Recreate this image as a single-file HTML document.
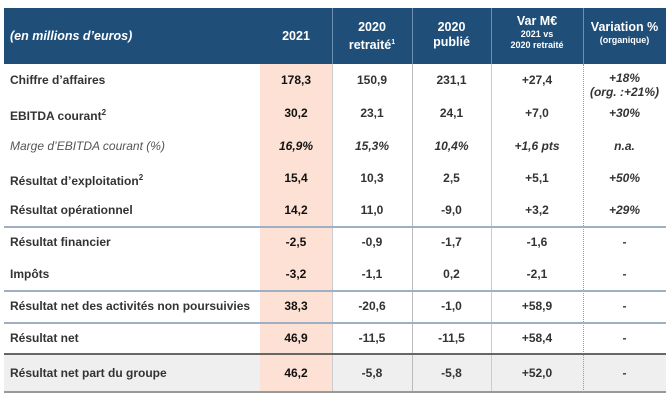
<!DOCTYPE html><html><head><meta charset="utf-8"><style>
body{margin:0;width:670px;height:400px;background:#fff;position:relative;overflow:hidden;font-family:"Liberation Sans",Arial,sans-serif;color:#333}
.a{position:absolute}
.hd{position:absolute;left:4px;top:8px;width:662px;height:56px;background:#1f4e79}
.ht{position:absolute;color:#fff;font-weight:bold;text-align:center;font-size:12.5px;line-height:15px}
.sm{font-size:9px;line-height:11px}
.r{position:absolute;left:0;width:670px;height:20px;font-size:12px;font-weight:bold}
.r div{position:absolute;top:0;line-height:20px;text-align:center}
.c0{left:10px;text-align:left!important;white-space:nowrap}
.c1{left:260px;width:72px;color:#111}.c2{left:332px;width:80px}.c3{left:412px;width:79px}.c4{left:491px;width:92px}.c5{left:583px;width:83px;font-style:italic}
.it div{font-style:italic}
.hl{position:absolute;left:4px;width:662px}
</style></head><body>
<div class="a" style="left:4px;top:354px;width:662px;height:38px;background:#efefef"></div>
<div class="a" style="left:260px;top:64px;width:72px;height:328px;background:#fce1d4"></div>
<div class="a" style="left:332px;top:64px;width:1px;height:328px;background:#ccc"></div>
<div class="a" style="left:412px;top:64px;width:1px;height:328px;background:#bbb"></div>
<div class="a" style="left:491px;top:64px;width:1px;height:328px;background:#ccc"></div>
<div class="a" style="left:583px;top:64px;width:0;height:328px;border-left:1px dotted #99a"></div>
<div class="hd"></div>
<div class="a" style="left:332px;top:8px;width:1px;height:56px;background:#6f8fb0"></div>
<div class="a" style="left:412px;top:8px;width:1px;height:56px;background:#6f8fb0"></div>
<div class="a" style="left:491px;top:8px;width:1px;height:56px;background:#6f8fb0"></div>
<div class="a" style="left:583px;top:8px;width:1px;height:56px;background:#6f8fb0"></div>
<div class="ht" style="left:10px;top:29px;font-style:italic;text-align:left">(en millions d’euros)</div>
<div class="ht" style="left:260px;width:72px;top:29px">2021</div>
<div class="ht" style="left:332px;width:80px;top:20px">2020<br>retraité<sup style="font-size:7px">1</sup></div>
<div class="ht" style="left:412px;width:79px;top:20px">2020<br>publié</div>
<div class="ht" style="left:491px;width:92px;top:14px">Var M€<div class="sm">2021 vs<br>2020 retraité</div></div>
<div class="ht" style="left:583px;width:83px;top:20px">Variation %<div class="sm">(organique)</div></div>

<div class="r" style="top:70px"><div class="c0">Chiffre d’affaires</div><div class="c1">178,3</div><div class="c2">150,9</div><div class="c3">231,1</div><div class="c4">+27,4</div><div class="c5" style="line-height:14px;top:1px">+18%<br>(org. :+21%)</div></div>
<div class="r" style="top:103px"><div class="c0">EBITDA courant<sup style="font-size:8px">2</sup></div><div class="c1">30,2</div><div class="c2">23,1</div><div class="c3">24,1</div><div class="c4">+7,0</div><div class="c5">+30%</div></div>
<div class="r it" style="top:136px"><div class="c0" style="font-weight:normal;color:#555">Marge d’EBITDA courant (%)</div><div class="c1">16,9%</div><div class="c2">15,3%</div><div class="c3">10,4%</div><div class="c4">+1,6 pts</div><div class="c5">n.a.</div></div>
<div class="r" style="top:168px"><div class="c0">Résultat d’exploitation<sup style="font-size:8px">2</sup></div><div class="c1">15,4</div><div class="c2">10,3</div><div class="c3">2,5</div><div class="c4">+5,1</div><div class="c5">+50%</div></div>
<div class="r" style="top:200px"><div class="c0">Résultat opérationnel</div><div class="c1">14,2</div><div class="c2">11,0</div><div class="c3">-9,0</div><div class="c4">+3,2</div><div class="c5">+29%</div></div>
<div class="hl" style="top:226px;height:2px;background:#9fb0c4"></div>
<div class="r" style="top:232px"><div class="c0">Résultat financier</div><div class="c1">-2,5</div><div class="c2">-0,9</div><div class="c3">-1,7</div><div class="c4">-1,6</div><div class="c5">-</div></div>
<div class="r" style="top:264px"><div class="c0">Impôts</div><div class="c1">-3,2</div><div class="c2">-1,1</div><div class="c3">0,2</div><div class="c4">-2,1</div><div class="c5">-</div></div>
<div class="hl" style="top:290px;height:2px;background:#9fb0c4"></div>
<div class="r" style="top:296px"><div class="c0">Résultat net des activités non poursuivies</div><div class="c1">38,3</div><div class="c2">-20,6</div><div class="c3">-1,0</div><div class="c4">+58,9</div><div class="c5">-</div></div>
<div class="hl" style="top:322px;height:2px;background:#9fb0c4"></div>
<div class="r" style="top:328px"><div class="c0">Résultat net</div><div class="c1">46,9</div><div class="c2">-11,5</div><div class="c3">-11,5</div><div class="c4">+58,4</div><div class="c5">-</div></div>
<div class="hl" style="top:353px;height:2px;background:#666"></div>
<div class="r" style="top:363px"><div class="c0">Résultat net part du groupe</div><div class="c1">46,2</div><div class="c2">-5,8</div><div class="c3">-5,8</div><div class="c4">+52,0</div><div class="c5">-</div></div>
<div class="hl" style="top:391px;height:2px;background:#999"></div>
</body></html>
